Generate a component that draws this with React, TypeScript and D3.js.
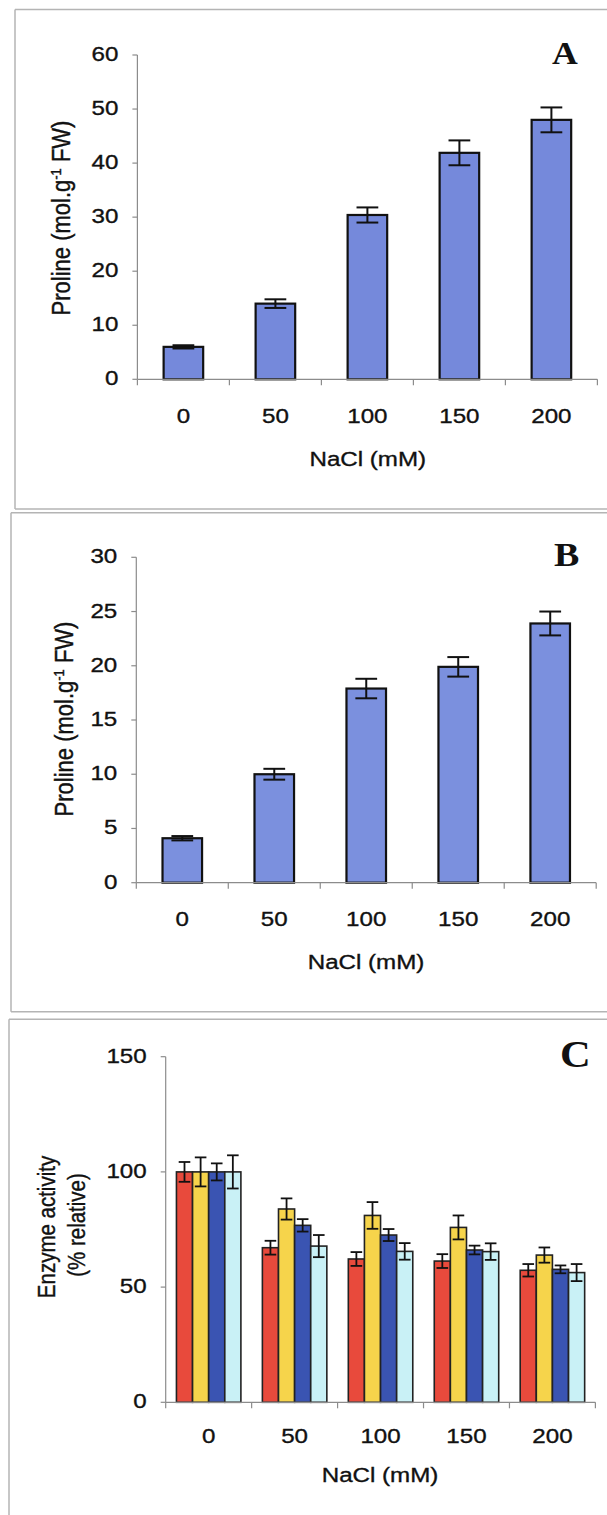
import * as d3 from "d3";

// NaCl doses (x categories)
const doses = ["0", "50", "100", "150", "200"];

// panel A: proline
const prolineA = [6, 14, 30.4, 41.9, 48];
const prolineAErr = [0.3, 0.8, 1.4, 2.3, 2.3];

// panel B: proline
const prolineB = [4.1, 10, 17.9, 19.9, 23.9];
const prolineBErr = [0.2, 0.5, 0.9, 0.9, 1.1];

// panel C: enzyme activity, four series
const enzymeNames = ["s1", "s2", "s3", "s4"];
const enzymeColors = ["#E84A3C", "#F6D44B", "#3A54B2", "#C9F1F6"];
const enzymeValues = [
  [100, 67.1, 62.2, 61.3, 57.3],
  [100, 83.9, 81.1, 75.9, 63.9],
  [100, 76.8, 72.6, 66.1, 57.7],
  [100, 67.8, 65.5, 65.4, 56.3],
];
const enzymeErr = [
  [4.3, 3, 3, 3, 2.7],
  [6.3, 4.6, 5.8, 5.2, 3.3],
  [3.7, 2.7, 2.6, 1.9, 1.7],
  [7.2, 4.8, 3.6, 3.6, 3.7],
];

const FONT = "'Liberation Sans', Arial, sans-serif";
const SERIF = "'Liberation Serif', 'Times New Roman', serif";
const SX = 1.15; // the scan is a bit stretched sideways

function Txt(props: any) {
  const { x, y, rot, size, anchor, children, family, weight } = props;
  const tr = `translate(${x},${y}) scale(${SX},1)` + (rot ? " rotate(-90)" : "");
  return (
    <text
      transform={tr}
      fontSize={size}
      fontFamily={family || FONT}
      fontWeight={weight || "normal"}
      textAnchor={anchor || "middle"}
      fill="#111"
      stroke={weight ? "none" : "#111"}
      strokeWidth={0.35}
    >
      {children}
    </text>
  );
}

function Frame({ x, y, bottom }: any) {
  return (
    <g stroke="#b4b4b4" strokeWidth={1.5} fill="none">
      <line x1={x} x2={607} y1={y} y2={y} />
      <line x1={x} x2={x} y1={y} y2={bottom} />
      {bottom < 1515 && <line x1={x} x2={607} y1={bottom} y2={bottom} />}
    </g>
  );
}

function Axes({ x, y, ticks, labelSize, xLabelY }: any) {
  const [l, r] = x.range();
  const [b, t] = y.range();
  return (
    <g>
      <line x1={l} x2={l} y1={b} y2={t} stroke="#8c8c8c" strokeWidth={1.2} />
      <line x1={l} x2={r} y1={b} y2={b} stroke="#8c8c8c" strokeWidth={1.2} />
      {ticks.map((v: number) => (
        <g key={v}>
          <line x1={l - 5} x2={l} y1={y(v)} y2={y(v)} stroke="#8c8c8c" strokeWidth={1.2} />
          <Txt x={l - 19} y={y(v) + 6} size={labelSize} anchor="end">{v}</Txt>
        </g>
      ))}
      {doses.concat(["end"]).map((d: string, i: number) => {
        const px = i < doses.length ? x(d) : r;
        return <line key={d} x1={px} x2={px} y1={b} y2={b + 6} stroke="#8c8c8c" strokeWidth={1.2} />;
      })}
      {doses.map((d: string) => (
        <Txt key={d} x={x(d) + x.bandwidth() / 2} y={xLabelY} size={labelSize}>{d}</Txt>
      ))}
    </g>
  );
}

function ErrBar({ cx, y0, y1, cap, w }: any) {
  return (
    <g stroke="#111" strokeWidth={w}>
      <line x1={cx} x2={cx} y1={y0} y2={y1} />
      <line x1={cx - cap / 2} x2={cx + cap / 2} y1={y0} y2={y0} />
      <line x1={cx - cap / 2} x2={cx + cap / 2} y1={y1} y2={y1} />
    </g>
  );
}

function ProlinePanel(props: any) {
  const { values, errs, yMax, step, plot, frame, xLabelY, title, ylab, letter, fill } = props;
  const x = d3.scaleBand().domain(doses).range([plot.left, plot.right]).padding(0);
  const y = d3.scaleLinear().domain([0, yMax]).range([plot.bottom, plot.top]);
  const ticks = d3.range(0, yMax + 0.001, step);
  const bw = x.bandwidth() * 0.43;
  return (
    <g>
      <Frame {...frame} />
      {values.map((v: number, i: number) => {
        const cx = x(doses[i])! + x.bandwidth() / 2;
        return (
          <g key={i}>
            <rect x={cx - bw / 2} y={y(v)} width={bw} height={y(0) - y(v)} fill={fill} stroke="#111" strokeWidth={2.2} />
            <ErrBar cx={cx} y0={y(v + errs[i])} y1={y(v - errs[i])} cap={bw * 0.55} w={2} />
          </g>
        );
      })}
      <Axes x={x} y={y} ticks={ticks} labelSize={21} xLabelY={xLabelY} />
      <Txt x={title.x} y={title.y} size={21}>NaCl (mM)</Txt>
      <Txt x={ylab.x} y={ylab.y} size={22} rot>
        Proline (mol.g<tspan dy={-8} fontSize={13}>-1</tspan>
        <tspan dy={8}> FW)</tspan>
      </Txt>
      <Txt x={letter.x} y={letter.y} size={letter.size} anchor="start" family={SERIF} weight="bold">
        {letter.text}
      </Txt>
    </g>
  );
}

function EnzymePanel() {
  const plot = { left: 165.7, right: 595.4, top: 1056.7, bottom: 1402.3 };
  const x0 = d3.scaleBand().domain(doses).range([plot.left, plot.right]).padding(0);
  const gw = x0.bandwidth() * 0.75;
  const x1 = d3.scaleBand().domain(enzymeNames).range([0, gw]).padding(0);
  const y = d3.scaleLinear().domain([0, 150]).range([plot.bottom, plot.top]);
  const bw = x1.bandwidth();
  return (
    <g>
      <Frame x={9} y={1019.3} bottom={1600} />
      {doses.map((d, i) => {
        const gx = x0(d)! + (x0.bandwidth() - gw) / 2;
        return (
          <g key={d}>
            {enzymeNames.map((s, k) => {
              const v = enzymeValues[k][i];
              const e = enzymeErr[k][i];
              const bx = gx + x1(s)!;
              return (
                <g key={s}>
                  <rect x={bx} y={y(v)} width={bw} height={y(0) - y(v)} fill={enzymeColors[k]} stroke="#222" strokeWidth={1.6} />
                  <ErrBar cx={bx + bw / 2} y0={y(v + e)} y1={y(v - e)} cap={bw * 0.72} w={1.8} />
                </g>
              );
            })}
          </g>
        );
      })}
      <Axes x={x0} y={y} ticks={[0, 50, 100, 150]} labelSize={21} xLabelY={1442.5} />
      <Txt x={380} y={1482} size={21}>NaCl (mM)</Txt>
      <Txt x={55} y={1227} size={20.5} rot>Enzyme activity</Txt>
      <Txt x={85} y={1225} size={20.5} rot>(% relative)</Txt>
      <Txt x={560} y={1067} size={37} anchor="start" family={SERIF} weight="bold">C</Txt>
    </g>
  );
}

export default function App() {
  return (
    <svg width={607} height={1515} style={{ position: "absolute", left: 0, top: 0, background: "#fff" }}>
      <rect width={607} height={1515} fill="#fff" />
      <ProlinePanel
        values={prolineA}
        errs={prolineAErr}
        yMax={60}
        step={10}
        plot={{ left: 137.4, right: 597.4, top: 55, bottom: 379.3 }}
        frame={{ x: 15, y: 9.5, bottom: 509 }}
        xLabelY={422.5}
        title={{ x: 367.8, y: 466 }}
        ylab={{ x: 70, y: 218 }}
        letter={{ x: 552, y: 64, size: 31, text: "A" }}
        fill="#7589DB"
      />
      <ProlinePanel
        values={prolineB}
        errs={prolineBErr}
        yMax={30}
        step={5}
        plot={{ left: 136.3, right: 596.2, top: 557.3, bottom: 882.7 }}
        frame={{ x: 11, y: 512.7, bottom: 1011.7 }}
        xLabelY={926}
        title={{ x: 366, y: 969 }}
        ylab={{ x: 73, y: 719 }}
        letter={{ x: 554, y: 566, size: 33, text: "B" }}
        fill="#7B90DE"
      />
      <EnzymePanel />
    </svg>
  );
}
